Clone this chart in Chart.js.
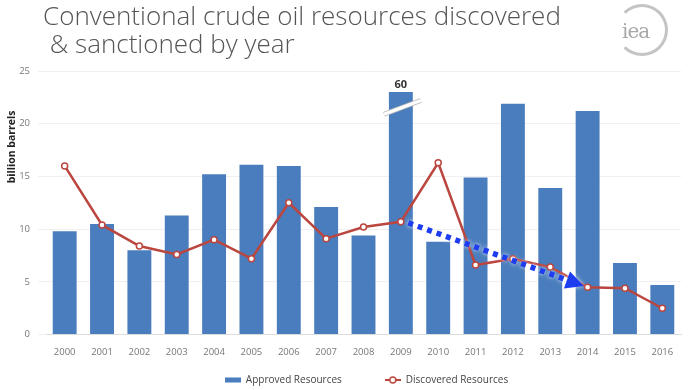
<!DOCTYPE html>
<html>
<head>
<meta charset="utf-8">
<script src="https://cdn.jsdelivr.net/npm/chart.js@4/dist/chart.umd.min.js"></script>
<style>
  html, body { margin: 0; padding: 0; background: #fff; }
  #wrap { position: relative; width: 688px; height: 390px; }
  #title {
    position: absolute; left: 43px; top: 1px;
    font-family: "Open Sans", sans-serif; font-weight: 300;
    font-size: 26px; line-height: 28px; color: #555;
    white-space: pre;
  }
  #logo {
    position: absolute; left: 616px; top: 4px; width: 52px; height: 52px;
    border: 3px solid #c4c4c4; border-left-color: transparent; border-radius: 50%;
    box-sizing: border-box;
  }
  #logo span {
    position: absolute; left: 3px; top: 12px;
    font-family: "DejaVu Serif", serif; font-size: 20px; color: #a8a8a8; letter-spacing: -1px;
  }
</style>
</head>
<body>
<div id="wrap">
  <canvas id="myChart" width="688" height="390"></canvas>
  <div id="title">Conventional crude oil resources discovered
 &amp; sanctioned by year</div>
  <div id="logo"><span>iea</span></div>
</div>
<script>
// x軸
const years = ['2000', '2001', '2002', '2003', '2004', '2005', '2006', '2007', '2008',
               '2009', '2010', '2011', '2012', '2013', '2014', '2015', '2016'];
// bar heights as drawn (2009 is cut at 23, real value 60)
const approved = [9.8, 10.5, 8.0, 11.3, 15.2, 16.1, 16.0, 12.1, 9.4,
                  23.0, 8.8, 14.9, 21.9, 13.9, 21.2, 6.8, 4.7];
const discovered = [16.0, 10.4, 8.4, 7.6, 9.0, 7.2, 12.5, 9.1, 10.2,
                    10.7, 16.3, 6.6, 7.2, 6.4, 4.5, 4.4, 2.5];
const yTicks = [0, 5, 10, 15, 20, 25];

// broken bar: index, real value, where the break mark sits
const brokenIndex = 9;
const brokenLabel = '60';
const breakFrom = 20.9;
const breakTo = 22.2;

// blue trend arrow, [category index, value]
const arrowFrom = [9.2, 10.6];
const arrowTo = [13.9, 4.6];

const yTitle = 'billion barrels';
const yTitleAt = 17.8;

const BLUE = '#4a7dbd';
const RED = '#bb463f';

function legendIcon(kind) {
    const c = document.createElement('canvas');
    c.width = 16; c.height = 8;
    const g = c.getContext('2d');
    if (kind === 'bar') {
        g.fillStyle = BLUE;
        g.fillRect(0, 1.5, 16, 5);
    } else {
        g.strokeStyle = RED;
        g.lineWidth = 2;
        g.beginPath(); g.moveTo(0, 4); g.lineTo(16, 4); g.stroke();
        g.fillStyle = '#fff';
        g.lineWidth = 1.5;
        g.beginPath(); g.arc(8, 4, 3, 0, Math.PI * 2); g.fill(); g.stroke();
    }
    return c;
}

const extras = {
    id: 'extras',
    afterLayout(chart) {
        // legend sits a bit right of centre and lower in the source
        const lg = chart.legend;
        lg.left += 24; lg.right += 24;
        lg.top += 5; lg.bottom += 5;
    },
    afterDatasetsDraw(chart) {
        const ctx = chart.ctx;
        const x = chart.scales.x, y = chart.scales.y;
        ctx.save();

        // y axis title, sits above the middle like in the source
        ctx.translate(chart.chartArea.left - 34, y.getPixelForValue(yTitleAt));
        ctx.rotate(-Math.PI / 2);
        ctx.fillStyle = '#222';
        ctx.font = 'bold 10.5px "Open Sans", sans-serif';
        ctx.textAlign = 'center';
        ctx.textBaseline = 'middle';
        ctx.fillText(yTitle, 0, 0);
        ctx.setTransform(1, 0, 0, 1, 0, 0);

        // break mark on the 2009 bar
        const bar = chart.getDatasetMeta(0).data[brokenIndex];
        const half = bar.width / 2 + 5;
        ctx.lineCap = 'butt';
        ctx.strokeStyle = '#bbb';
        ctx.lineWidth = 5;
        ctx.beginPath();
        ctx.moveTo(bar.x - half, y.getPixelForValue(breakFrom));
        ctx.lineTo(bar.x + half + 3, y.getPixelForValue(breakTo));
        ctx.stroke();
        ctx.strokeStyle = '#fff';
        ctx.lineWidth = 3;
        ctx.stroke();
        ctx.fillStyle = '#333';
        ctx.font = 'bold 11px "Open Sans", sans-serif';
        ctx.textAlign = 'center';
        ctx.textBaseline = 'bottom';
        ctx.fillText(brokenLabel, bar.x, bar.y - 2);

        // dotted arrow
        const x0 = x.getPixelForValue(arrowFrom[0]), y0 = y.getPixelForValue(arrowFrom[1]);
        const x1 = x.getPixelForValue(arrowTo[0]), y1 = y.getPixelForValue(arrowTo[1]);
        const ang = Math.atan2(y1 - y0, x1 - x0);
        const head = 18;
        const xe = x1 - Math.cos(ang) * head, ye = y1 - Math.sin(ang) * head;
        ctx.shadowColor = 'rgba(255,255,255,0.9)';
        ctx.shadowBlur = 4;
        ctx.strokeStyle = '#1f3df0';
        ctx.lineWidth = 5.5;
        ctx.setLineDash([5, 5]);
        ctx.beginPath();
        ctx.moveTo(x0, y0);
        ctx.lineTo(xe, ye);
        ctx.stroke();
        ctx.setLineDash([]);
        ctx.fillStyle = '#1f3df0';
        ctx.beginPath();
        ctx.moveTo(x1, y1);
        ctx.lineTo(xe + Math.sin(ang) * 9, ye - Math.cos(ang) * 9);
        ctx.lineTo(xe - Math.sin(ang) * 9, ye + Math.cos(ang) * 9);
        ctx.closePath();
        ctx.fill();
        ctx.restore();
    }
};

const data = {
    labels: years,
    datasets: [
        {
            type: 'bar',
            label: 'Approved Resources',
            data: approved,
            backgroundColor: BLUE,
            barPercentage: 0.8,
            categoryPercentage: 0.8,
            order: 1
        },
        {
            type: 'line',
            label: 'Discovered Resources',
            data: discovered,
            borderColor: RED,
            borderWidth: 2.5,
            pointRadius: 3,
            pointBorderWidth: 1.5,
            pointBackgroundColor: '#fff',
            pointBorderColor: RED,
            tension: 0,
            order: 0
        }
    ]
};

const config = {
    data: data,
    options: {
        responsive: false,
        animation: false,
        layout: { padding: { top: 71, right: 7, left: 4, bottom: 0 } },
        scales: {
            x: {
                grid: { display: false },
                border: { color: '#ddd' },
                ticks: { color: '#777', font: { family: 'Open Sans', size: 9.5 }, maxRotation: 0, autoSkip: false, padding: 4 }
            },
            y: {
                min: 0,
                max: 25,
                afterBuildTicks: s => { s.ticks = yTicks.map(v => ({ value: v })); },
                grid: { color: '#f0f0f0' },
                border: { display: false },
                ticks: { color: '#777', font: { family: 'Open Sans', size: 9.5 }, padding: 8 },
                afterFit: s => { s.width = 42; }
            }
        },
        plugins: {
            legend: {
                position: 'bottom',
                labels: {
                    usePointStyle: true,
                    pointStyleWidth: 16,
                    padding: 8,
                    color: '#444',
                    font: { family: 'Open Sans', size: 10 },
                    sort: (a, b) => a.datasetIndex - b.datasetIndex,
                    generateLabels(chart) {
                        const items = Chart.defaults.plugins.legend.labels.generateLabels(chart);
                        items.forEach(it => {
                            it.pointStyle = legendIcon(it.datasetIndex === 0 ? 'bar' : 'line');
                            if (it.datasetIndex === 0) it.text += '\u2003\u2003\u2003\u2002';
                        });
                        return items;
                    }
                }
            },
            tooltip: { enabled: false }
        }
    },
    plugins: [extras]
};

new Chart(document.getElementById('myChart'), config);
</script>
</body>
</html>
